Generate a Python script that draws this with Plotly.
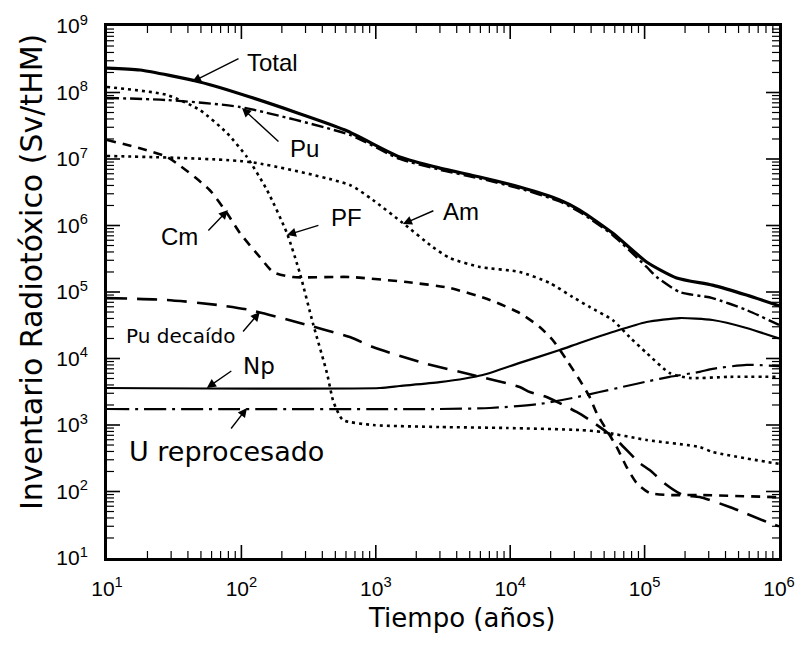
import math
import plotly.graph_objects as go

# ---- data (years, Sv/tHM) ----
total_years = [10, 17.6, 49, 116, 590, 1508, 2990, 5930, 11770, 23350, 32870, 57800, 103500, 173000, 320000, 573000, 1000000]
total_vals = [2.33e8, 2.18e8, 1.44e8, 8.55e7, 2.73e7, 1.07e7, 7.3e6, 5.36e6, 3.79e6, 2.42e6, 1.71e6, 7.7e5, 2.83e5, 1.63e5, 1.27e5, 9.0e4, 6.2e4]

pu_years = [10, 27.9, 97.5, 641, 1508, 2990, 5930, 11770, 23350, 32870, 57800, 103500, 123000, 182000, 320000, 573000, 1000000]
pu_vals = [8.3e7, 7.7e7, 6.05e7, 2.3e7, 1.0e7, 6.9e6, 5.1e6, 3.6e6, 2.3e6, 1.6e6, 7.2e5, 2.38e5, 1.68e5, 1.0e5, 8.1e4, 5.36e4, 3.2e4]

am_years = [10, 116, 641, 951, 1588, 2652, 3550, 5930, 11770, 19660, 29160, 39000, 57800, 77300, 103500, 153500, 216000, 429000, 1000000]
am_vals = [1.11e7, 9.0e6, 4.06e6, 2.42e6, 1.09e6, 4.75e5, 3.25e5, 2.38e5, 2.0e5, 1.37e5, 8.4e4, 5.95e4, 3.79e4, 2.1e4, 1.21e4, 6.05e3, 5.1e3, 5.3e3, 5.3e3]

cm_years = [10, 27.9, 58, 78, 97.5, 137, 172, 241, 641, 1700, 3550, 7050, 11770, 16570, 20700, 26300, 32870, 39000, 43970, 52130, 61930, 73500, 87200, 109000, 153500, 257000, 1000000]
cm_vals = [1.93e7, 1.07e7, 3.42e6, 1.54e6, 7.7e5, 3.36e5, 2.0e5, 1.68e5, 1.68e5, 1.41e5, 1.15e5, 7.6e4, 4.83e4, 2.98e4, 1.9e4, 9.5e3, 4.75e3, 2.64e3, 1.51e3, 841, 467, 233, 134, 95, 88.5, 88.5, 82]

pf_years = [10, 27.9, 49, 78, 110, 155, 218, 272, 340, 433, 479, 513, 569, 951, 2990, 9420, 32870, 48760, 103500, 257000, 320000, 1000000]
pf_vals = [1.21e8, 9.2e7, 5.46e7, 2.46e7, 1.07e7, 3.42e6, 7.7e5, 1.93e5, 3.42e4, 6.05e3, 2.38e3, 1.68e3, 1.19e3, 1.0e3, 933, 902, 841, 785, 594, 467, 393, 260]

np_years = [10, 1072, 1508, 2990, 6250, 11770, 23350, 32870, 57800, 103500, 182000, 320000, 573000, 1000000]
np_vals = [3.6e3, 3.6e3, 3.86e3, 4.4e3, 5.65e3, 8.6e3, 1.34e4, 1.71e4, 2.5e4, 3.54e4, 4.06e4, 3.79e4, 2.88e4, 2.0e4]

pud_years = [10, 27.9, 65.8, 116, 272, 641, 951, 2235, 5260, 11770, 13970, 18660, 31200, 39000, 52130, 65200, 91800, 109000, 146000, 192000, 257000, 429000, 850000, 1000000]
pud_vals = [8.1e4, 7.6e4, 6.4e4, 5.36e4, 3.42e4, 2.1e4, 1.49e4, 8.6e3, 5.65e3, 3.73e3, 3.13e3, 2.64e3, 1.57e3, 1.19e3, 785, 536, 268, 210, 125, 88.5, 82.6, 58.5, 33.6, 30]

u_years = [10, 2990, 7050, 16570, 29160, 46250, 73500, 109000, 153500, 257000, 320000, 573000, 1000000]
u_vals = [1.74e3, 1.74e3, 1.8e3, 2.07e3, 2.55e3, 3.13e3, 3.86e3, 4.6e3, 5.3e3, 6.3e3, 7.0e3, 8.0e3, 7.7e3]

x_exponents = [1, 2, 3, 4, 5, 6]
y_exponents = [1, 2, 3, 4, 5, 6, 7, 8, 9]

series = [
    ("Total", total_years, total_vals, "solid", 3.2),
    ("Pu", pu_years, pu_vals, "12px,4px,3px,4px", 2.4),
    ("Am", am_years, am_vals, "3px,4px", 2.6),
    ("Cm", cm_years, cm_vals, "9px,7px", 2.6),
    ("PF", pf_years, pf_vals, "3px,4px", 2.6),
    ("Np", np_years, np_vals, "solid", 2.2),
    ("Pu decaído", pud_years, pud_vals, "20px,10px", 2.6),
    ("U reprocesado", u_years, u_vals, "22px,6px,3px,6px", 2.2),
]

W, H = 798, 646
ML, MR, MT, MB = 107, 19, 26, 88
PW, PH = W - ML - MR, H - MT - MB

fig = go.Figure()
for name, xs, ys, dash, w in series:
    fig.add_trace(go.Scatter(
        x=xs, y=ys, mode="lines", name=name,
        line=dict(color="black", width=w, dash=dash, shape="spline", smoothing=0.6),
        showlegend=False, hoverinfo="skip",
    ))

L = math.log10
lab_font = dict(family="Liberation Sans, Arial, sans-serif", size=24, color="black")
dv = "DejaVu Sans, Verdana, sans-serif"
labels = [
    ("Total", 169, 2.78e8, lab_font),
    ("Pu", 297, 1.46e7, lab_font),
    ("Cm", 34.9, 6.95e5, lab_font),
    ("PF", 608, 1.30e6, lab_font),
    ("Am", 4290, 1.65e6, lab_font),
    ("Pu decaído", 35.5, 2.18e4, dict(family=dv, size=20, color="black")),
    ("Np", 135, 7.71e3, dict(family=dv, size=23, color="black")),
    ("U reprocesado", 78, 406, dict(family=dv, size=27, color="black")),
]
for txt, xv, yv, f in labels:
    fig.add_annotation(x=L(xv), y=L(yv), text=txt, showarrow=False,
                       xanchor="center", yanchor="middle", font=f)

arrows = [
    (42.9, 1.44e8, 48, -24),
    (101, 5.85e7, 38, 35),
    (79.4, 1.71e6, -21, 22),
    (218, 7.2e5, 33, -10),
    (1590, 1.05e6, 32, -14),
    (137, 5.0e4, -18, 21),
    (55.3, 3.6e3, 26, -18),
    (110, 1.8e3, -17, 22),
]
for xv, yv, dx, dy in arrows:
    fig.add_annotation(x=L(xv), y=L(yv), text="", showarrow=True,
                       ax=dx, ay=dy, arrowhead=2, arrowsize=1.3,
                       arrowwidth=1.4, arrowcolor="black", standoff=0)

# axis titles (placed like the reference)
fig.add_annotation(xref="paper", yref="paper", x=(461 - ML) / PW, y=-(618 - (H - MB)) / PH,
                   text="Tiempo (años)", showarrow=False, xanchor="center", yanchor="middle",
                   font=dict(family=dv, size=26, color="black"))
fig.add_annotation(xref="paper", yref="paper", x=(31 - ML) / PW, y=((H - MB) - 272) / PH,
                   text="Inventario Radiotóxico (Sv/tHM)", showarrow=False, textangle=-90,
                   xanchor="center", yanchor="middle",
                   font=dict(family=dv, size=30, color="black"))


def minor_vals(exps):
    out = []
    for e in exps[:-1]:
        for m in range(2, 10):
            out.append(m * 10 ** e)
    return out


# inside tick marks on all four sides (major 13px, minor 7px); shapes on log axes take data values
MAJ, MIN = 13, 7
tick_specs = [([10 ** e for e in x_exponents[1:-1]], MAJ, 1.6),
              (minor_vals(x_exponents), MIN, 1.2)]
for vals, ln, lw in tick_specs:
    for v in vals:
        fig.add_shape(type="line", xref="x", yref="paper", x0=v, x1=v, y0=0, y1=ln / PH,
                      line=dict(color="black", width=lw), layer="above")
        fig.add_shape(type="line", xref="x", yref="paper", x0=v, x1=v, y0=1, y1=1 - ln / PH,
                      line=dict(color="black", width=lw), layer="above")
tick_specs_y = [([10 ** e for e in y_exponents[1:-1]], MAJ, 1.6),
                (minor_vals(y_exponents), MIN, 1.2)]
for vals, ln, lw in tick_specs_y:
    for v in vals:
        fig.add_shape(type="line", xref="paper", yref="y", x0=0, x1=ln / PW, y0=v, y1=v,
                      line=dict(color="black", width=lw), layer="above")
        fig.add_shape(type="line", xref="paper", yref="y", x0=1, x1=1 - ln / PW, y0=v, y1=v,
                      line=dict(color="black", width=lw), layer="above")

tick_font = dict(family="Liberation Sans, Arial, sans-serif", size=21, color="black")
axis_common = dict(
    type="log", showline=True, linewidth=3, linecolor="black", mirror=True,
    ticks="", showgrid=False, zeroline=False, automargin=False, tickfont=tick_font,
    tickmode="array",
)

fig.update_layout(
    xaxis=dict(
        **axis_common,
        range=[1, 6],
        tickvals=[10 ** e for e in x_exponents],
        ticktext=[f"10<sup>{e}</sup>" for e in x_exponents],
        ticklabelstandoff=10,
    ),
    yaxis=dict(
        **axis_common,
        range=[1, 9],
        tickvals=[10 ** e for e in y_exponents],
        ticktext=[f"10<sup>{e}</sup>" for e in y_exponents],
        ticklabelstandoff=12,
    ),
    width=W, height=H,
    margin=dict(l=ML, r=MR, t=MT, b=MB),
    paper_bgcolor="white", plot_bgcolor="white",
    hovermode=False,
)

fig.write_html(
    "out.html",
    config={"displayModeBar": False, "staticPlot": True},
    post_script="document.body.style.margin='0';document.body.style.padding='0';document.body.style.overflow='hidden';",
)
